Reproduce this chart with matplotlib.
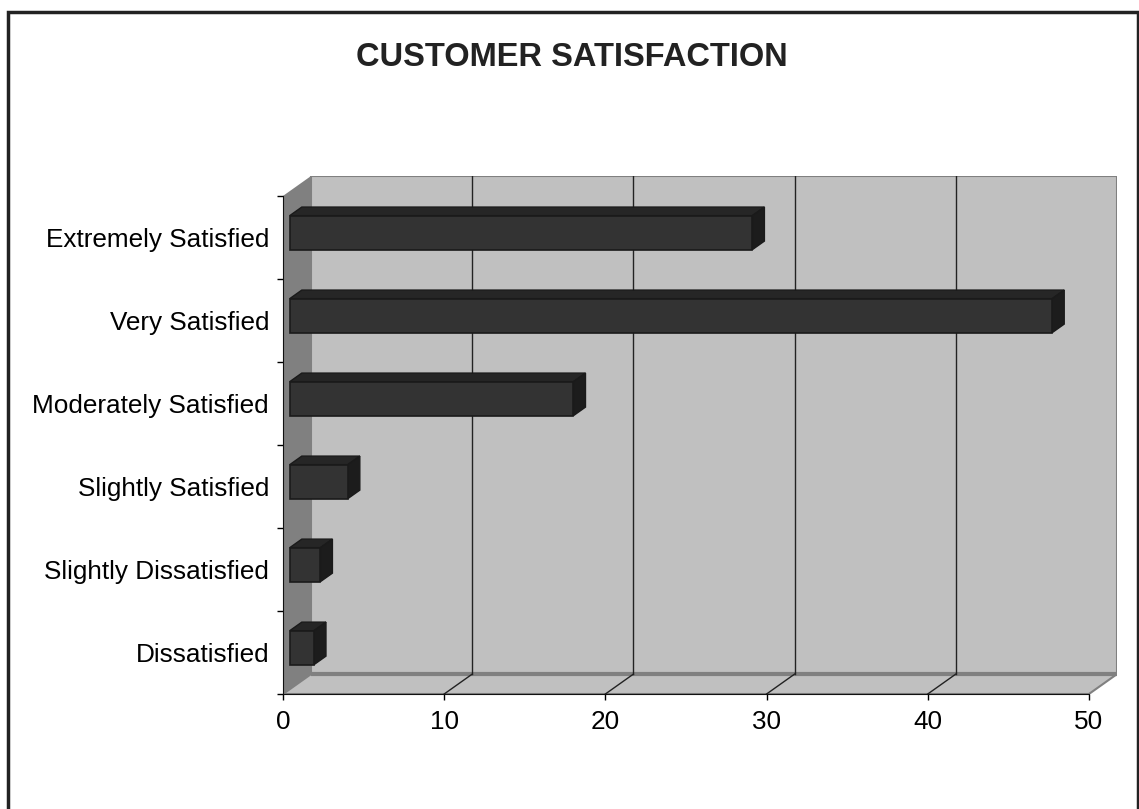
import matplotlib
matplotlib.use("Agg")
import matplotlib.pyplot as plt
from matplotlib.patches import Polygon, Rectangle

plt.rcParams['font.family'] = ['Liberation Sans', 'DejaVu Sans']

# data, bottom category first
categories = ["Dissatisfied", "Slightly Dissatisfied", "Slightly Satisfied",
              "Moderately Satisfied", "Very Satisfied", "Extremely Satisfied"]
values = [1.5, 1.9, 3.6, 17.6, 47.3, 28.7]
x_ticks = [0, 10, 20, 30, 40, 50]

XMAX = 50
DX = 1.74   # depth offset in x units
DY = 0.24   # depth offset in category units
F0 = 0.24   # bar front depth
FD = 0.43   # bar depth
HALF = 0.205

fig = plt.figure(figsize=(11.39, 8.09), dpi=100)
ax = fig.add_axes([283 / 1139, 1 - 694 / 809, 834 / 1139, 518 / 809])
ax.set_xlim(0, XMAX + DX)
ax.set_ylim(0, len(categories) + DY)
ncat = len(categories)

# walls
ax.add_patch(Polygon([(0, 0), (DX, DY), (DX, ncat + DY), (0, ncat)],
                     closed=True, facecolor='#808080', edgecolor='none', zorder=1))
ax.add_patch(Polygon([(0, 0), (XMAX, 0), (XMAX + DX, DY), (DX, DY)],
                     closed=True, facecolor='#c0c0c0', edgecolor='#808080', lw=1.5, zorder=1))
ax.add_patch(Rectangle((DX, DY), XMAX, ncat, facecolor='#c0c0c0',
                       edgecolor='#808080', lw=1.5, zorder=1))
ax.plot([DX, XMAX + DX], [DY, DY], color='#808080', lw=3, zorder=2,
        solid_capstyle='butt')

# gridlines
for t in x_ticks[1:-1]:
    ax.plot([t + DX, t + DX], [DY, ncat + DY], color='#222222', lw=1, zorder=2)
    ax.plot([t, t + DX], [0, DY], color='#222222', lw=1, zorder=2)

# 3d bars
for i, v in enumerate(values):
    ox, oy = F0 * DX, F0 * DY
    bx, by = FD * DX, FD * DY
    y0 = i + 0.5 - HALF + oy
    y1 = i + 0.5 + HALF + oy
    x0 = ox
    x1 = ox + v
    ax.add_patch(Polygon([(x0, y1), (x1, y1), (x1 + bx, y1 + by), (x0 + bx, y1 + by)],
                         closed=True, facecolor='#262626', edgecolor='#1a1a1a', lw=1, zorder=3))
    ax.add_patch(Polygon([(x1, y0), (x1 + bx, y0 + by), (x1 + bx, y1 + by), (x1, y1)],
                         closed=True, facecolor='#1c1c1c', edgecolor='#1a1a1a', lw=1, zorder=3))
    ax.add_patch(Rectangle((x0, y0), v, y1 - y0, facecolor='#333333',
                           edgecolor='#1a1a1a', lw=1.2, zorder=4))

# axes
for s in ['top', 'right']:
    ax.spines[s].set_visible(False)
ax.spines['bottom'].set_bounds(0, XMAX)
ax.spines['left'].set_bounds(0, ncat)
ax.spines['bottom'].set_zorder(5)
ax.spines['left'].set_zorder(5)
ax.spines['bottom'].set_color('#111111')
ax.spines['left'].set_color('#111111')
ax.set_xticks(x_ticks)
ax.set_xticklabels([str(t) for t in x_ticks])
ax.set_yticks(range(ncat + 1))
ax.set_yticklabels([])
ax.set_yticks([i + 0.5 for i in range(ncat)], minor=True)
ax.set_yticklabels(categories, minor=True)
ax.tick_params(axis='x', direction='out', length=4.5, width=1, pad=7, labelsize=18.8)
ax.tick_params(axis='y', which='major', direction='out', length=4.5, width=1)
ax.tick_params(axis='y', which='minor', length=0, pad=10, labelsize=18.8)
ax.patch.set_visible(False)

fig.text(0.502, 1 - 57.5 / 809, "CUSTOMER SATISFACTION", ha='center', va='center',
         fontsize=23.5, fontweight='bold', color='#222222')

# outer frame
fig.patches.append(Rectangle((7.5 / 1139, -0.01), 1130 / 1139, 1.01 - 11.5 / 809,
                             transform=fig.transFigure, fill=False,
                             edgecolor='#222222', lw=2.5))

fig.savefig("out.png", dpi=100)
